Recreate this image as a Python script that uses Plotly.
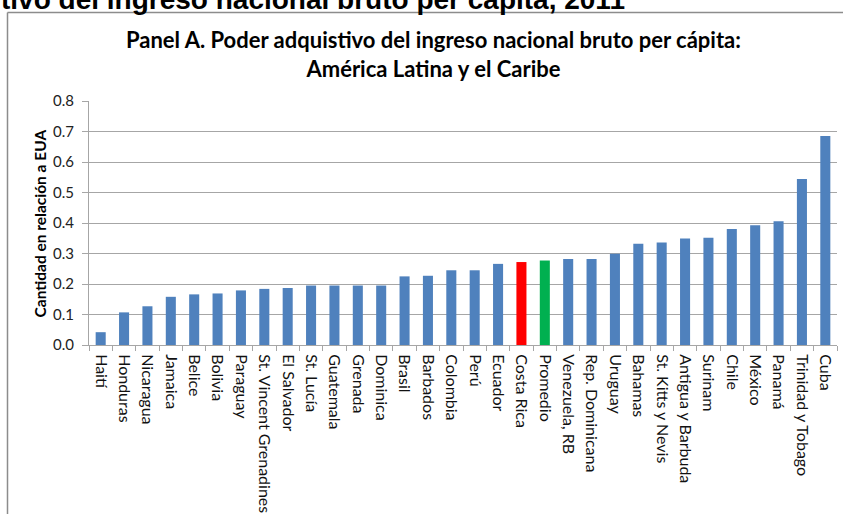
import plotly.graph_objects as go

countries = ["Haití", "Honduras", "Nicaragua", "Jamaica", "Belice", "Bolivia", "Paraguay",
             "St. Vincent Grenadines", "El Salvador", "St. Lucía", "Guatemala", "Grenada",
             "Dominica", "Brasil", "Barbados", "Colombia", "Perú", "Ecuador", "Costa Rica",
             "Promedio", "Venezuela, RB", "Rep. Dominicana", "Uruguay", "Bahamas",
             "St. Kitts y Nevis", "Antigua y Barbuda", "Surinam", "Chile", "México",
             "Panamá", "Trinidad y Tobago", "Cuba"]
values = [0.042, 0.107, 0.127, 0.158, 0.166, 0.169, 0.179,
          0.184, 0.187, 0.195, 0.195, 0.195,
          0.195, 0.225, 0.227, 0.245, 0.245, 0.266, 0.272,
          0.277, 0.282, 0.282, 0.299, 0.332,
          0.336, 0.349, 0.352, 0.380, 0.393,
          0.406, 0.544, 0.685]
y_ticks = [0.0, 0.1, 0.2, 0.3, 0.4, 0.5, 0.6, 0.7, 0.8]
y_ticklabels = ["0.0", "0.1", "0.2", "0.3", "0.4", "0.5", "0.6", "0.7", "0.8"]

BLUE = "#4F81BD"
highlight = {"Costa Rica": "#FF0000", "Promedio": "#00B050"}
colors = [highlight.get(c, BLUE) for c in countries]

W, H = 843, 519
ML, MR, MT, MB = 89, 6, 101, 171
PW, PH = W - ML - MR, H - MT - MB


def px(xp):
    return (xp - ML) / PW


def py(yp):
    return (H - MB - yp) / PH


FONT = "Lato, Open Sans, sans-serif"

fig = go.Figure(go.Bar(x=countries, y=values, marker=dict(color=colors, line=dict(width=0)),
                       width=0.43))

fig.update_layout(
    width=W, height=H,
    margin=dict(l=ML, r=MR, t=MT, b=MB, pad=0),
    paper_bgcolor="white", plot_bgcolor="white",
    showlegend=False,
    font=dict(family=FONT, color="#222222"),
    xaxis=dict(
        type="category", tickangle=90, tickfont=dict(size=16, color="#111111"),
        ticks="outside", tickson="boundaries", ticklen=5, tickcolor="#A6A6A6",
        ticklabelstandoff=5,
        showline=True, linecolor="#A6A6A6", linewidth=1, showgrid=False,
        range=[-0.5, len(countries) - 0.5],
    ),
    yaxis=dict(
        range=[0, 0.8], tickvals=y_ticks, ticktext=y_ticklabels,
        tickfont=dict(size=15, color="#222222"),
        ticks="outside", ticklen=6, tickcolor="#A6A6A6",
        ticklabelstandoff=5,
        showline=True, linecolor="#A6A6A6", linewidth=1,
        showgrid=True, gridcolor="#A6A6A6", gridwidth=1, zeroline=False,
    ),
    shapes=[
        dict(type="line", xref="paper", yref="paper", x0=px(7.5), x1=px(843), y0=py(11.5), y1=py(11.5),
             line=dict(color="#8C8C8C", width=1.5)),
        dict(type="line", xref="paper", yref="paper", x0=px(7.5), x1=px(7.5), y0=py(11.5), y1=py(519),
             line=dict(color="#8C8C8C", width=1.5)),
    ],
    annotations=[
        dict(text="<b>Panel A. Poder adquistivo del ingreso nacional bruto per cápita:<br>América Latina y el Caribe</b>",
             xref="paper", yref="paper", x=px(433), y=py(53), xanchor="center", yanchor="middle",
             showarrow=False, font=dict(size=22, color="#000000", family=FONT)),
        dict(text="<b>Cantidad en relación a EUA</b>", textangle=-90,
             xref="paper", yref="paper", x=px(40), y=py(225), xanchor="center", yanchor="middle",
             showarrow=False, font=dict(size=15.5, color="#000000", family=FONT)),
        dict(text="<b>tivo del ingreso nacional bruto per cápita, 2011</b>",
             xref="paper", yref="paper", x=px(-1), y=py(-2), xanchor="left", yanchor="middle",
             showarrow=False, font=dict(size=28, color="#000000", family="Liberation Sans, Arial, sans-serif")),
    ],
)

fig.write_html("out.html", post_script="document.body.style.margin='0';",
               config={"displayModeBar": False})
